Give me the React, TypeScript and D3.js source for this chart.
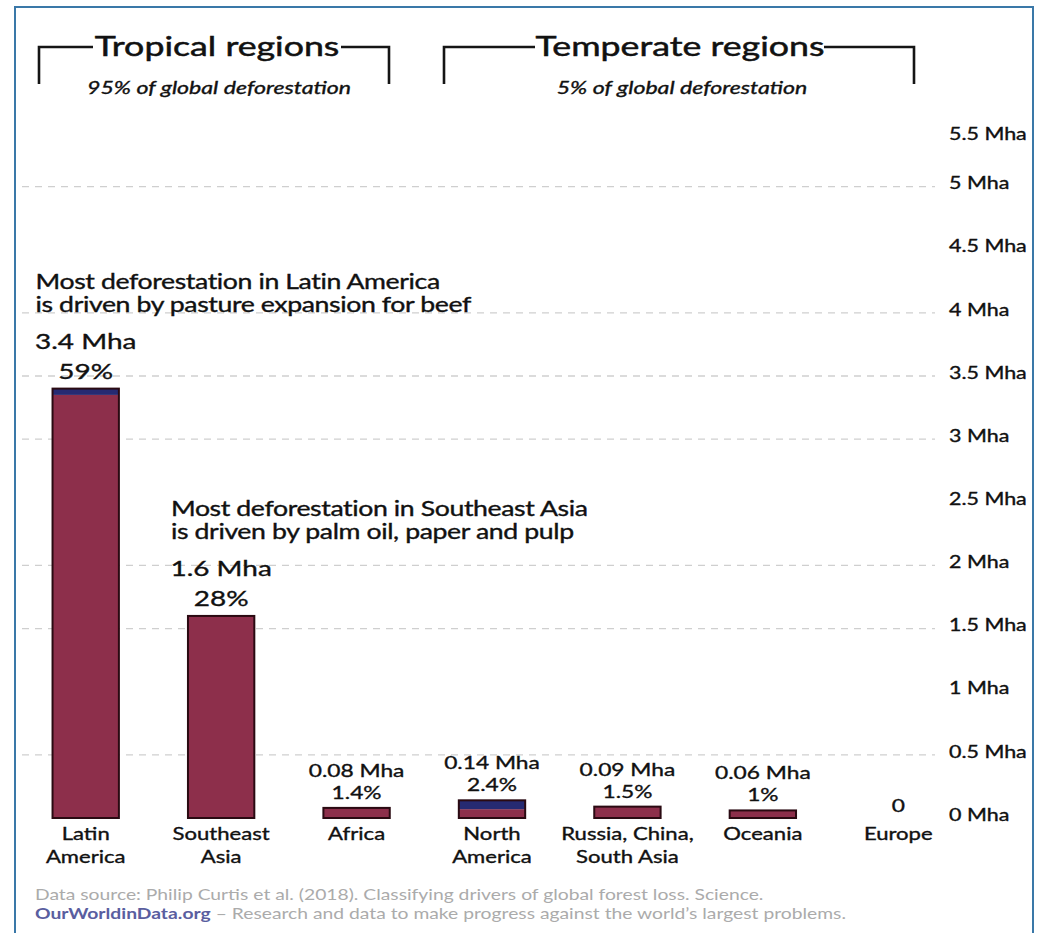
import React from "react";
import * as d3 from "d3";

// Annual deforestation by region (million hectares), split by driver
const categories = [
  "Latin America",
  "Southeast Asia",
  "Africa",
  "North America",
  "Russia, China, South Asia",
  "Oceania",
  "Europe",
];
const categoryLines = [
  ["Latin", "America"],
  ["Southeast", "Asia"],
  ["Africa"],
  ["North", "America"],
  ["Russia, China,", "South Asia"],
  ["Oceania"],
  ["Europe"],
];
const commodityMha = [3.35, 1.6, 0.08, 0.07, 0.09, 0.06, 0];
const otherMha = [0.05, 0, 0, 0.07, 0, 0, 0];
const valueLabels = ["3.4 Mha", "1.6 Mha", "0.08 Mha", "0.14 Mha", "0.09 Mha", "0.06 Mha", "0"];
const shareLabels = ["59%", "28%", "1.4%", "2.4%", "1.5%", "1%", ""];

const yTicks = [0, 0.5, 1, 1.5, 2, 2.5, 3, 3.5, 4, 4.5, 5, 5.5];
const gridTicks = [0.5, 1.5, 2, 3, 3.5, 4, 5];

const notes = [
  { index: 0, lines: ["Most deforestation in Latin America", "is driven by pasture expansion for beef"] },
  { index: 1, lines: ["Most deforestation in Southeast Asia", "is driven by palm oil, paper and pulp"] },
];

const FONT = "Lato, 'Open Sans', sans-serif";
const W = 1045;
const H = 933;
const SX = 1.3; // horizontal text widening used throughout the chart

// Text widened horizontally around its anchor point
function WText(props: any) {
  const { x, y, sx = SX, children, ...rest } = props;
  return (
    <text transform={`translate(${x},${y}) scale(${sx},1)`} {...rest}>
      {children}
    </text>
  );
}

export default function App() {
  const x = d3
    .scaleBand<string>()
    .domain(categories)
    .range([18, 966])
    .paddingInner(0.51)
    .paddingOuter(0.255);
  const y = d3.scaleLinear().domain([0, 5.5]).range([818, 123.4]);

  const rows = categories.map((c, i) => ({
    name: c,
    commodity: commodityMha[i],
    other: otherMha[i],
  }));
  const stack = d3.stack<any>().keys(["commodity", "other"])(rows);
  const segColors: Record<string, string> = { commodity: "#8d2f4b", other: "#262a72" };

  const bw = x.bandwidth();
  const ink = { fill: "#111", stroke: "#111", strokeWidth: 0.35 };

  return (
    <svg
      width={W}
      height={H}
      style={{ position: "absolute", left: 0, top: 0, background: "#fff" }}
      fontFamily={FONT}
    >
      <rect x={0} y={0} width={W} height={H} fill="#fff" />
      {/* frame */}
      <rect x={15} y={7} width={1018} height={960} fill="none" stroke="#3a78a8" strokeWidth={2} />

      {/* header brackets */}
      <g stroke="#151515" strokeWidth={2.6} fill="none">
        <path d="M39,84 V47 H93" />
        <path d="M341,47 H389 V84" />
        <path d="M444,84 V47 H535" />
        <path d="M824,47 H914 V84" />
      </g>
      <WText x={217} y={56} textAnchor="middle" fontSize={27.5} {...ink} strokeWidth={0.5}>
        Tropical regions
      </WText>
      <WText x={219} y={94} sx={1.36} textAnchor="middle" fontSize={17} fontStyle="italic" {...ink}>
        95% of global deforestation
      </WText>
      <WText x={680} y={56} textAnchor="middle" fontSize={27.5} {...ink} strokeWidth={0.5}>
        Temperate regions
      </WText>
      <WText x={682} y={94} sx={1.36} textAnchor="middle" fontSize={17} fontStyle="italic" {...ink}>
        5% of global deforestation
      </WText>

      {/* gridlines */}
      <g>
        {gridTicks.map((t) => (
          <line
            key={t}
            x1={22}
            x2={935}
            y1={y(t)}
            y2={y(t)}
            stroke="#cfcfcf"
            strokeWidth={1.3}
            strokeDasharray="7,6"
          />
        ))}
      </g>

      {/* right axis labels */}
      <g>
        {yTicks.map((t) => (
          <WText
            key={t}
            x={949}
            y={Math.max(y(t) - 3, 134)}
            dy="0.35em"
            fontSize={16.5}
            {...ink}
          >
            {t === 0 ? "0 Mha" : `${t} Mha`}
          </WText>
        ))}
      </g>

      {/* bars */}
      <g>
        {stack.map((layer) =>
          layer.map((seg, i) => {
            const h = y(seg[0]) - y(seg[1]);
            if (h <= 0) return null;
            return (
              <rect
                key={layer.key + i}
                x={x(categories[i])!}
                y={y(seg[1])}
                width={bw}
                height={h}
                fill={segColors[layer.key]}
              />
            );
          })
        )}
        {categories.map((c, i) => {
          const total = commodityMha[i] + otherMha[i];
          if (total <= 0) return null;
          return (
            <rect
              key={"o" + c}
              x={x(c)!}
              y={y(total)}
              width={bw}
              height={y(0) - y(total)}
              fill="none"
              stroke="#2a0a12"
              strokeWidth={2}
            />
          );
        })}
      </g>

      {/* value labels */}
      <g textAnchor="middle">
        {categories.map((c, i) => {
          const total = commodityMha[i] + otherMha[i];
          const cx = x(c)! + bw / 2;
          const big = total >= 1;
          const fs = big ? 21.5 : 17.5;
          const top = y(total);
          if (total <= 0) {
            return (
              <WText key={c} x={cx} y={top - 6} fontSize={17.5} {...ink}>
                {valueLabels[i]}
              </WText>
            );
          }
          const pctBase = top - (big ? 10 : 9);
          const gap = big ? 30 : 22;
          return (
            <g key={c}>
              <WText x={cx} y={pctBase - gap} fontSize={fs} {...ink}>
                {valueLabels[i]}
              </WText>
              <WText x={cx} y={pctBase} fontSize={fs} {...ink}>
                {shareLabels[i]}
              </WText>
            </g>
          );
        })}
      </g>

      {/* annotations */}
      <g>
        {notes.map((n) => {
          const total = commodityMha[n.index] + otherMha[n.index];
          const x0 = x(categories[n.index])! - 17;
          const base = y(total) - 100;
          return n.lines.map((l, k) => (
            <WText
              key={n.index + "-" + k}
              x={x0}
              y={base + k * 23}
              sx={1.3}
              fontSize={20.5}
              letterSpacing={-0.3}
              {...ink}
            >
              {l}
            </WText>
          ));
        })}
      </g>

      {/* category labels */}
      <g textAnchor="middle">
        {categories.map((c, i) =>
          categoryLines[i].map((l, k) => (
            <WText key={c + k} x={x(c)! + bw / 2} y={840 + k * 23} fontSize={17} {...ink}>
              {l}
            </WText>
          ))
        )}
      </g>

      {/* footer */}
      <WText x={35} y={900} sx={1.33} fontSize={14.5} fill="#ababab">
        Data source: Philip Curtis et al. (2018). Classifying drivers of global forest loss. Science.
      </WText>
      <WText x={35} y={919} sx={1.33} fontSize={14.5} fill="#ababab">
        <tspan fill="#5a5e9f" fontWeight={700}>OurWorldinData.org</tspan>
        <tspan> – Research and data to make progress against the world’s largest problems.</tspan>
      </WText>
    </svg>
  );
}
